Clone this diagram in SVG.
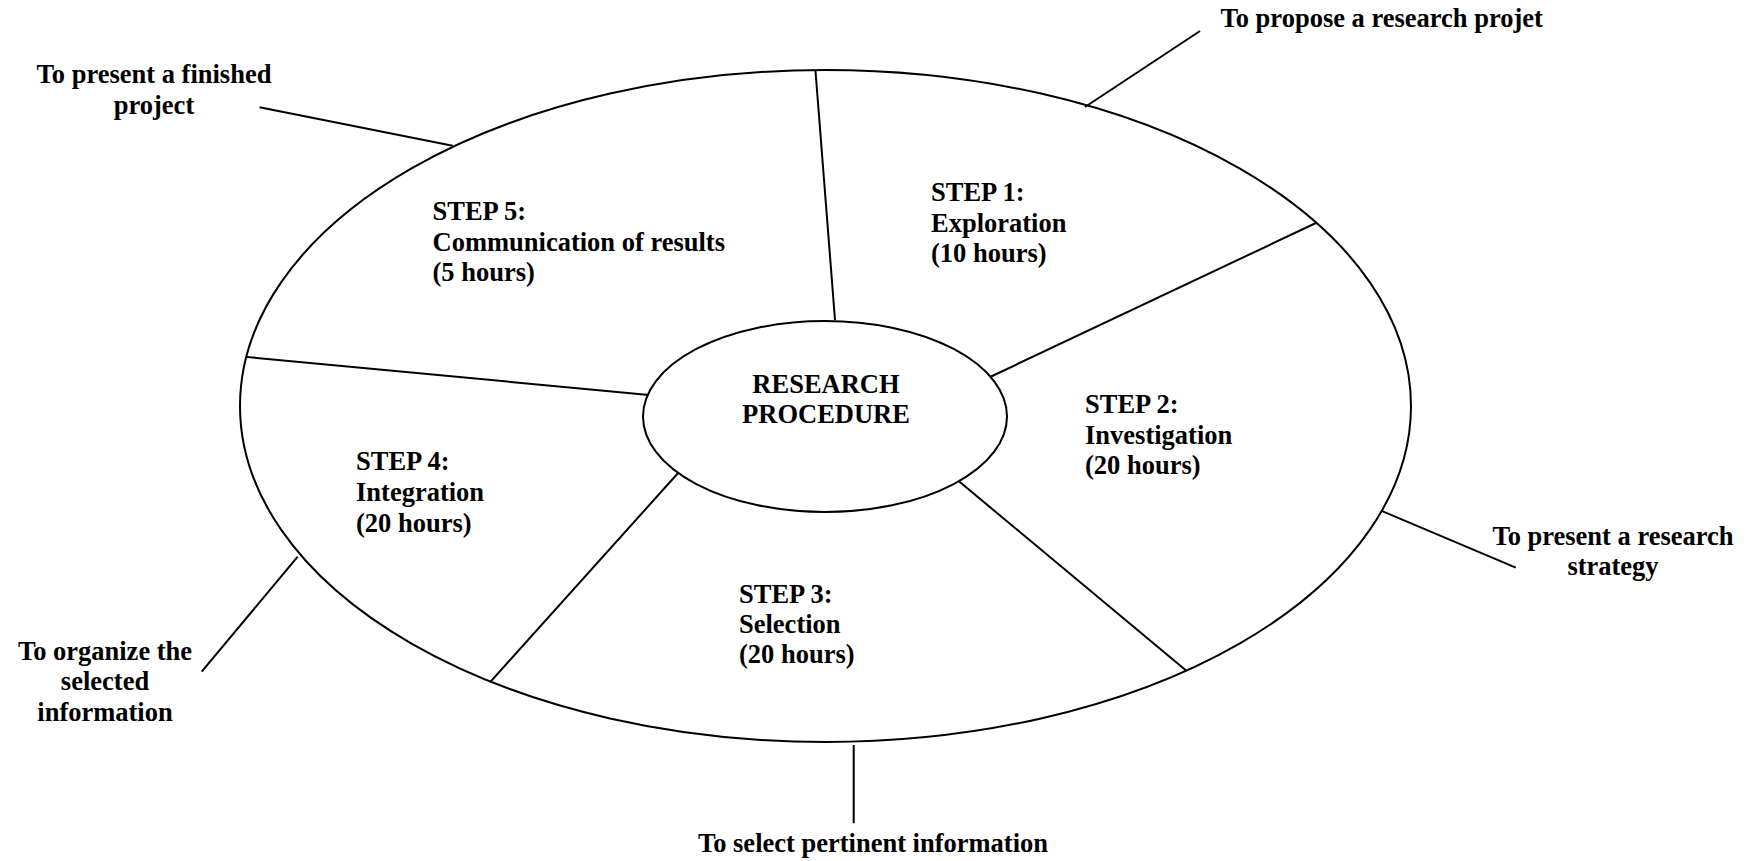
<svg xmlns="http://www.w3.org/2000/svg" width="1758" height="861" viewBox="0 0 1758 861">
<style>
.ln{stroke:#000;stroke-width:2;fill:none}
.t{font-family:"Liberation Serif","Times New Roman",serif;font-weight:bold;font-size:26.5px;fill:#000}
.c{text-anchor:middle}
</style>
<rect width="1758" height="861" fill="#fff"/>
<g id="outer-ring"><ellipse class="ln" cx="825.5" cy="406" rx="585.5" ry="336"/></g>
<g id="connectors">
<line class="ln" x1="815.5" y1="71" x2="835" y2="320"/>
<line class="ln" x1="990" y1="377" x2="1316" y2="223"/>
<line class="ln" x1="958.6" y1="481" x2="1186.7" y2="671"/>
<line class="ln" x1="679" y1="472" x2="490.6" y2="681.7"/>
<line class="ln" x1="649" y1="395" x2="246.8" y2="357"/>
<line class="ln" x1="1085" y1="107" x2="1200" y2="31"/>
<line class="ln" x1="259.5" y1="107.3" x2="452.7" y2="145.7"/>
<line class="ln" x1="1381" y1="510.7" x2="1515.8" y2="567.7"/>
<line class="ln" x1="297.7" y1="556.7" x2="201.7" y2="671.7"/>
<line class="ln" x1="853.7" y1="745" x2="853.7" y2="823.3"/>
</g>
<g id="center">
<ellipse cx="825" cy="416.5" rx="182" ry="95.5" fill="#fff" stroke="#000" stroke-width="2"/>
<text class="t c" x="826" y="393">RESEARCH</text>
<text class="t c" x="826" y="423">PROCEDURE</text>
</g>
<g id="step1"><text class="t" x="931"><tspan x="931" y="201">STEP 1:</tspan><tspan x="931" y="231.5">Exploration</tspan><tspan x="931" y="262">(10 hours)</tspan></text></g>
<g id="step2"><text class="t" x="1085"><tspan x="1085" y="413">STEP 2:</tspan><tspan x="1085" y="443.5">Investigation</tspan><tspan x="1085" y="474">(20 hours)</tspan></text></g>
<g id="step3"><text class="t" x="739"><tspan x="739" y="603">STEP 3:</tspan><tspan x="739" y="633">Selection</tspan><tspan x="739" y="663">(20 hours)</tspan></text></g>
<g id="step4"><text class="t" x="356"><tspan x="356" y="469.5">STEP 4:</tspan><tspan x="356" y="500.5">Integration</tspan><tspan x="356" y="531.5">(20 hours)</tspan></text></g>
<g id="step5"><text class="t" x="432.5"><tspan x="432.5" y="220">STEP 5:</tspan><tspan x="432.5" y="250.5">Communication of results</tspan><tspan x="432.5" y="281">(5 hours)</tspan></text></g>
<g id="label-propose"><text class="t" x="1220.5" y="27">To propose a research projet</text></g>
<g id="label-finished"><text class="t c"><tspan x="154" y="83">To present a finished</tspan><tspan x="154" y="114">project</tspan></text></g>
<g id="label-strategy"><text class="t c"><tspan x="1613" y="545">To present a research</tspan><tspan x="1613" y="575">strategy</tspan></text></g>
<g id="label-organize"><text class="t c"><tspan x="105" y="660">To organize the</tspan><tspan x="105" y="690">selected</tspan><tspan x="105" y="720.5">information</tspan></text></g>
<g id="label-select"><text class="t c" x="873" y="851.5">To select pertinent information</text></g>
</svg>
